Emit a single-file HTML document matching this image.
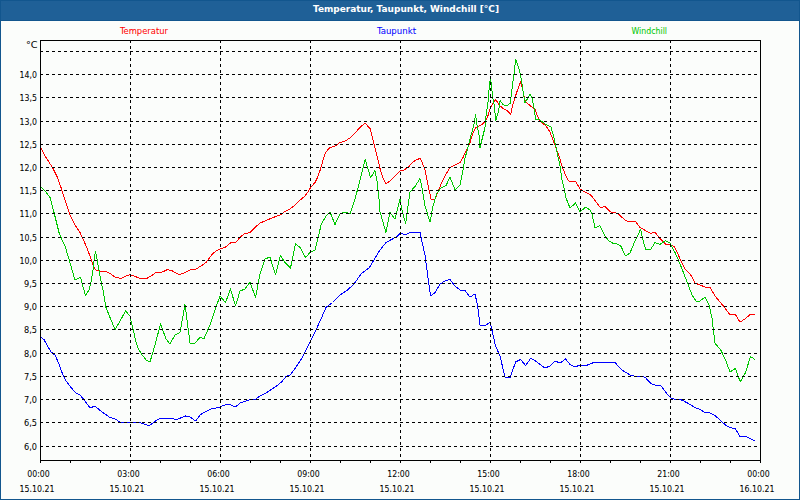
<!DOCTYPE html><html><head><meta charset="utf-8"><title>Temperatur, Taupunkt, Windchill</title>
<style>html,body{margin:0;padding:0;background:#fbfdfb;}svg{display:block;}text{font-family:'DejaVu Sans Condensed', 'DejaVu Sans', sans-serif;stroke-width:0.04px;}</style></head><body>
<svg width="800" height="500" viewBox="0 0 800 500">
<rect x="0" y="0" width="800" height="500" fill="#fbfdfb"/>
<rect x="0" y="0" width="800" height="20" fill="#1f6097"/>
<rect x="0" y="20" width="800" height="1" fill="#12568e"/>
<rect x="0.5" y="0.5" width="799" height="499" fill="none" stroke="#12568e" stroke-width="1" shape-rendering="crispEdges"/>
<text x="313" y="12" fill="#ffffff" stroke="#ffffff" font-weight="bold" font-size="9.5px" style="font-family:&quot;DejaVu Sans&quot;,sans-serif" textLength="186" lengthAdjust="spacingAndGlyphs">Temperatur, Taupunkt, Windchill [°C]</text>
<text x="120" y="34" fill="#ff0000" stroke="#ff0000" font-size="9.5px" textLength="48" lengthAdjust="spacingAndGlyphs">Temperatur</text>
<text x="377" y="34" fill="#0000ff" stroke="#0000ff" font-size="9.5px" textLength="39" lengthAdjust="spacingAndGlyphs">Taupunkt</text>
<text x="631.5" y="34" fill="#00c800" stroke="#00c800" font-size="9.5px" textLength="35.5" lengthAdjust="spacingAndGlyphs">Windchill</text>
<text x="26" y="48" fill="#000000" stroke="#000000" font-size="9.5px" textLength="11.5" lengthAdjust="spacingAndGlyphs">°C</text>
<g fill="none" stroke-width="1" stroke-linejoin="round" shape-rendering="crispEdges">
<polyline stroke="#ff0000" points="41.00,148.00 45.00,156.00 52.50,167.50 57.50,177.50 61.00,187.50 65.00,200.00 70.00,215.00 75.00,225.00 80.00,232.50 83.50,240.00 86.50,247.00 90.00,256.00 92.50,263.50 94.50,268.50 96.00,270.00 98.50,271.00 101.50,271.50 106.00,271.50 110.00,273.50 115.00,277.00 119.00,278.00 122.00,278.00 126.00,276.00 130.00,274.50 134.00,276.00 139.00,278.00 141.00,278.00 147.50,278.00 151.00,276.00 156.00,272.50 162.50,272.00 167.50,269.50 172.50,271.00 179.50,274.80 185.00,272.50 190.00,270.00 196.00,269.00 201.00,266.00 204.00,264.00 206.00,262.50 211.00,256.00 212.50,254.00 216.00,251.00 220.00,249.00 225.00,247.50 231.00,242.50 236.00,242.00 240.00,237.50 244.00,234.00 250.00,232.50 255.00,227.50 260.00,223.00 265.00,221.00 270.00,218.80 275.00,216.80 280.00,215.00 285.00,211.50 290.00,209.00 294.00,206.00 299.00,201.00 305.00,196.00 307.50,192.50 310.60,187.50 315.00,182.50 317.50,177.50 320.00,170.60 322.50,162.00 325.00,153.75 327.50,150.00 330.00,147.50 335.00,146.00 340.00,142.50 345.00,141.00 350.00,138.00 355.00,133.00 360.00,127.50 365.00,123.00 370.00,128.50 375.60,150.00 378.00,160.00 380.60,171.00 383.00,178.00 386.00,183.50 390.00,181.00 395.00,176.00 400.00,171.00 404.00,170.00 408.00,167.60 412.00,163.00 416.00,160.00 420.00,158.40 422.00,162.00 425.00,170.00 428.00,185.00 431.00,199.00 435.00,199.00 438.00,192.00 441.00,184.00 445.00,176.00 450.00,167.60 455.00,165.00 460.00,162.50 463.00,157.50 466.00,151.00 470.00,142.50 473.00,133.00 476.00,127.50 479.00,126.00 482.50,124.00 485.60,120.60 488.00,115.60 490.00,109.00 492.50,104.00 495.40,100.00 497.50,102.00 500.00,106.00 504.00,109.00 507.50,111.00 510.60,114.40 512.50,106.00 515.00,97.50 517.50,90.00 520.60,82.00 522.50,89.00 525.00,100.60 528.00,104.00 532.00,107.00 535.00,109.00 537.00,115.00 540.00,121.00 546.00,126.00 550.00,132.00 553.00,140.00 556.00,148.00 559.00,156.00 562.00,166.00 565.00,174.00 568.00,180.00 570.60,182.00 573.00,181.00 575.60,181.50 580.00,189.00 585.00,192.00 590.60,195.00 594.00,199.00 597.50,204.00 600.60,208.00 604.75,206.00 607.50,209.00 610.60,212.00 615.00,212.50 619.40,215.00 625.00,220.00 629.40,222.00 635.00,221.00 640.00,227.50 645.00,230.30 650.60,233.30 655.00,232.30 658.75,237.00 663.75,242.50 666.00,244.40 670.00,244.40 674.40,247.00 677.50,253.00 681.00,261.00 685.00,269.00 691.00,275.30 695.00,283.00 700.00,285.00 705.00,287.00 710.00,287.40 715.00,296.00 720.00,302.00 725.00,308.00 730.00,315.00 735.00,314.00 740.00,322.00 745.00,319.00 750.50,314.20 755.00,314.20"/>
<polyline stroke="#0000ff" points="41.00,337.50 44.00,339.50 47.50,346.00 51.00,352.00 55.00,355.00 59.00,364.00 62.50,374.00 66.00,381.00 71.00,387.50 76.00,393.00 80.00,395.00 85.00,401.00 90.00,408.00 95.00,406.00 100.00,410.50 105.00,414.00 110.00,417.50 115.00,419.00 120.00,422.00 130.00,422.00 140.00,422.50 145.00,424.50 149.50,425.60 156.00,420.60 160.60,418.20 172.00,418.20 175.60,419.80 180.60,418.00 185.60,416.00 190.00,417.00 195.60,421.00 200.60,414.50 206.00,411.50 211.00,409.00 216.00,408.00 220.00,407.00 226.00,404.50 230.00,404.50 235.50,407.00 240.00,403.00 246.00,401.00 251.00,399.50 256.00,399.00 260.00,396.00 266.00,393.00 272.00,389.00 278.00,385.00 282.00,381.50 286.00,376.50 290.00,375.00 294.00,370.00 298.00,364.00 302.00,358.00 306.00,350.00 311.00,340.00 316.00,330.00 321.00,319.00 326.00,307.50 332.50,302.50 340.00,295.00 347.50,290.00 354.00,284.00 361.00,274.00 369.00,268.00 374.00,260.00 380.00,250.00 386.00,242.50 392.50,239.00 397.50,236.00 400.50,233.00 405.00,235.00 410.00,232.40 415.00,232.00 420.00,232.40 422.00,242.00 425.00,255.00 430.50,296.00 435.00,292.50 440.00,284.00 445.00,281.00 450.00,279.50 455.00,286.00 460.00,290.00 465.00,290.50 470.00,297.00 475.00,294.00 477.50,305.00 480.00,325.00 485.00,326.00 490.00,322.00 492.50,332.50 495.50,346.00 500.00,356.00 505.00,377.00 510.00,378.00 515.60,362.00 520.60,359.50 525.60,365.50 530.60,358.50 535.00,360.50 540.00,364.50 545.00,368.00 550.00,366.00 555.00,361.00 560.00,363.00 565.50,359.00 570.00,364.50 575.00,367.00 580.00,365.00 585.00,366.00 590.00,364.00 595.00,362.00 600.00,362.00 612.50,362.00 615.60,363.00 618.75,367.00 621.90,370.00 626.00,372.50 630.00,375.00 634.00,376.00 642.50,376.50 645.60,377.75 648.00,380.60 651.00,383.50 655.00,385.00 660.60,385.40 663.75,389.40 667.50,394.40 670.60,398.00 675.00,399.40 680.00,399.40 683.00,400.60 687.50,403.00 692.50,406.00 696.00,408.00 700.00,409.50 705.00,412.50 710.00,413.00 715.00,415.50 720.00,420.00 726.00,425.50 730.00,427.50 735.50,429.00 740.00,436.50 746.00,436.50 750.00,438.50 754.50,441.00"/>
<polyline stroke="#00c800" points="41.00,187.00 45.00,191.00 50.00,197.50 54.00,212.50 59.00,232.50 62.00,240.00 65.00,246.00 68.00,256.00 71.00,266.00 75.00,280.00 78.00,278.50 80.50,277.50 82.00,283.00 85.50,295.80 89.00,290.00 91.00,282.00 93.00,270.00 94.50,256.00 95.50,252.00 96.50,256.00 97.50,262.00 99.50,273.00 101.50,284.00 103.00,290.00 106.00,307.50 110.00,317.50 115.00,329.50 120.00,321.00 125.60,311.00 130.00,316.00 132.00,325.00 134.00,333.00 135.50,341.00 138.50,349.00 142.00,354.70 146.50,360.50 150.00,362.00 155.00,345.00 160.50,324.00 166.00,339.00 170.00,344.00 175.00,335.00 180.00,332.50 185.00,304.50 190.00,343.00 195.00,343.00 200.00,337.50 204.00,338.50 210.00,325.00 215.00,310.00 220.00,296.00 225.50,302.50 230.50,289.00 235.50,306.00 240.00,291.00 245.00,289.00 250.00,282.00 255.50,297.50 260.00,274.00 265.00,259.00 270.00,257.00 275.50,275.00 280.50,255.50 285.00,262.50 290.50,268.00 295.50,244.00 300.00,247.50 305.50,257.50 310.00,252.50 315.00,250.00 319.00,234.00 321.00,225.00 326.00,216.00 330.00,212.00 335.00,224.50 340.00,214.00 345.00,212.00 350.00,214.00 355.00,199.00 358.75,185.00 362.50,170.00 365.25,159.40 367.50,167.50 370.60,177.50 373.00,174.00 375.00,170.60 377.00,181.00 378.75,196.00 380.00,212.00 386.00,232.50 390.00,212.50 395.00,219.00 400.00,199.00 402.00,210.00 405.60,223.60 410.00,192.00 415.00,186.50 420.00,178.60 422.00,188.00 425.00,206.00 430.00,222.00 433.00,206.00 437.00,193.00 441.00,188.00 446.00,185.60 450.00,177.00 455.00,190.00 460.00,185.00 463.00,170.00 465.00,158.00 467.00,151.00 470.60,137.00 474.00,124.00 475.60,115.00 477.00,125.00 479.00,135.00 480.00,147.50 482.50,137.50 485.00,127.50 486.00,116.00 488.00,102.50 489.50,84.00 490.50,79.00 491.50,84.00 492.00,91.00 493.00,99.00 494.50,106.00 495.60,121.00 498.75,110.00 500.00,100.60 502.50,104.00 505.60,106.00 508.00,105.00 510.60,103.00 511.00,97.50 512.50,85.00 514.00,74.00 515.60,59.40 517.50,64.40 519.40,70.00 521.00,77.50 523.00,91.00 525.00,103.00 527.50,98.75 530.00,94.00 532.00,97.50 534.00,107.50 535.60,119.40 540.00,120.00 545.00,124.00 551.00,127.00 554.00,138.00 557.00,152.00 560.00,166.00 562.00,180.00 564.40,190.00 566.00,198.00 570.00,208.00 575.60,203.00 580.00,212.00 585.60,207.00 590.00,210.00 592.00,214.00 595.00,228.00 600.00,225.60 605.00,236.00 609.00,241.00 612.50,243.00 617.00,244.00 620.60,245.60 625.60,256.00 630.00,253.00 635.00,241.00 640.60,229.40 643.00,240.00 645.60,249.60 650.60,249.60 655.00,242.50 660.00,244.40 665.60,240.60 670.00,243.00 675.00,252.50 679.40,262.50 684.00,274.00 689.00,287.00 692.00,295.00 696.00,301.00 700.00,301.00 705.00,297.00 709.00,305.00 712.00,318.00 715.00,343.20 721.00,350.40 725.50,360.00 730.00,372.00 735.40,368.40 740.20,381.80 745.60,372.60 750.40,356.40 755.00,359.50"/>
</g>
<g stroke="#000000" stroke-width="1" stroke-dasharray="3 3" shape-rendering="crispEdges"><line x1="40" y1="51.5" x2="760" y2="51.5"/><line x1="40" y1="74.5" x2="760" y2="74.5"/><line x1="40" y1="97.5" x2="760" y2="97.5"/><line x1="40" y1="121.5" x2="760" y2="121.5"/><line x1="40" y1="144.5" x2="760" y2="144.5"/><line x1="40" y1="167.5" x2="760" y2="167.5"/><line x1="40" y1="190.5" x2="760" y2="190.5"/><line x1="40" y1="213.5" x2="760" y2="213.5"/><line x1="40" y1="237.5" x2="760" y2="237.5"/><line x1="40" y1="260.5" x2="760" y2="260.5"/><line x1="40" y1="283.5" x2="760" y2="283.5"/><line x1="40" y1="306.5" x2="760" y2="306.5"/><line x1="40" y1="329.5" x2="760" y2="329.5"/><line x1="40" y1="353.5" x2="760" y2="353.5"/><line x1="40" y1="376.5" x2="760" y2="376.5"/><line x1="40" y1="399.5" x2="760" y2="399.5"/><line x1="40" y1="422.5" x2="760" y2="422.5"/><line x1="40" y1="446.5" x2="760" y2="446.5"/><line x1="130.5" y1="40" x2="130.5" y2="460"/><line x1="220.5" y1="40" x2="220.5" y2="460"/><line x1="310.5" y1="40" x2="310.5" y2="460"/><line x1="400.5" y1="40" x2="400.5" y2="460"/><line x1="490.5" y1="40" x2="490.5" y2="460"/><line x1="580.5" y1="40" x2="580.5" y2="460"/><line x1="670.5" y1="40" x2="670.5" y2="460"/></g>
<rect x="40.5" y="40.5" width="720" height="420" fill="none" stroke="#000000" stroke-width="1" shape-rendering="crispEdges"/>
<g stroke="#000000" stroke-width="1" shape-rendering="crispEdges"><line x1="40.5" y1="460" x2="40.5" y2="463"/><line x1="70.5" y1="460" x2="70.5" y2="463"/><line x1="100.5" y1="460" x2="100.5" y2="463"/><line x1="130.5" y1="460" x2="130.5" y2="463"/><line x1="160.5" y1="460" x2="160.5" y2="463"/><line x1="190.5" y1="460" x2="190.5" y2="463"/><line x1="220.5" y1="460" x2="220.5" y2="463"/><line x1="250.5" y1="460" x2="250.5" y2="463"/><line x1="280.5" y1="460" x2="280.5" y2="463"/><line x1="310.5" y1="460" x2="310.5" y2="463"/><line x1="340.5" y1="460" x2="340.5" y2="463"/><line x1="370.5" y1="460" x2="370.5" y2="463"/><line x1="400.5" y1="460" x2="400.5" y2="463"/><line x1="430.5" y1="460" x2="430.5" y2="463"/><line x1="460.5" y1="460" x2="460.5" y2="463"/><line x1="490.5" y1="460" x2="490.5" y2="463"/><line x1="520.5" y1="460" x2="520.5" y2="463"/><line x1="550.5" y1="460" x2="550.5" y2="463"/><line x1="580.5" y1="460" x2="580.5" y2="463"/><line x1="610.5" y1="460" x2="610.5" y2="463"/><line x1="640.5" y1="460" x2="640.5" y2="463"/><line x1="670.5" y1="460" x2="670.5" y2="463"/><line x1="700.5" y1="460" x2="700.5" y2="463"/><line x1="730.5" y1="460" x2="730.5" y2="463"/><line x1="760.5" y1="460" x2="760.5" y2="463"/></g>
<g fill="#000000" stroke="#000000" font-size="9.5px"><text x="19.6" y="78" textLength="17.4" lengthAdjust="spacingAndGlyphs">14,0</text><text x="19.6" y="101" textLength="17.4" lengthAdjust="spacingAndGlyphs">13,5</text><text x="19.6" y="125" textLength="17.4" lengthAdjust="spacingAndGlyphs">13,0</text><text x="19.6" y="148" textLength="17.4" lengthAdjust="spacingAndGlyphs">12,5</text><text x="19.6" y="171" textLength="17.4" lengthAdjust="spacingAndGlyphs">12,0</text><text x="19.6" y="194" textLength="17.4" lengthAdjust="spacingAndGlyphs">11,5</text><text x="19.6" y="217" textLength="17.4" lengthAdjust="spacingAndGlyphs">11,0</text><text x="19.6" y="241" textLength="17.4" lengthAdjust="spacingAndGlyphs">10,5</text><text x="19.6" y="264" textLength="17.4" lengthAdjust="spacingAndGlyphs">10,0</text><text x="24" y="287" textLength="13" lengthAdjust="spacingAndGlyphs">9,5</text><text x="24" y="310" textLength="13" lengthAdjust="spacingAndGlyphs">9,0</text><text x="24" y="333" textLength="13" lengthAdjust="spacingAndGlyphs">8,5</text><text x="24" y="357" textLength="13" lengthAdjust="spacingAndGlyphs">8,0</text><text x="24" y="380" textLength="13" lengthAdjust="spacingAndGlyphs">7,5</text><text x="24" y="403" textLength="13" lengthAdjust="spacingAndGlyphs">7,0</text><text x="24" y="426" textLength="13" lengthAdjust="spacingAndGlyphs">6,5</text><text x="24" y="450" textLength="13" lengthAdjust="spacingAndGlyphs">6,0</text></g>
<g fill="#000000" stroke="#000000" font-size="9.5px"><text x="27.25" y="477" textLength="22.5" lengthAdjust="spacingAndGlyphs">00:00</text><text x="19.5" y="492" textLength="35" lengthAdjust="spacingAndGlyphs">15.10.21</text><text x="117.25" y="477" textLength="22.5" lengthAdjust="spacingAndGlyphs">03:00</text><text x="109.5" y="492" textLength="35" lengthAdjust="spacingAndGlyphs">15.10.21</text><text x="207.25" y="477" textLength="22.5" lengthAdjust="spacingAndGlyphs">06:00</text><text x="199.5" y="492" textLength="35" lengthAdjust="spacingAndGlyphs">15.10.21</text><text x="297.25" y="477" textLength="22.5" lengthAdjust="spacingAndGlyphs">09:00</text><text x="289.5" y="492" textLength="35" lengthAdjust="spacingAndGlyphs">15.10.21</text><text x="387.25" y="477" textLength="22.5" lengthAdjust="spacingAndGlyphs">12:00</text><text x="379.5" y="492" textLength="35" lengthAdjust="spacingAndGlyphs">15.10.21</text><text x="477.25" y="477" textLength="22.5" lengthAdjust="spacingAndGlyphs">15:00</text><text x="469.5" y="492" textLength="35" lengthAdjust="spacingAndGlyphs">15.10.21</text><text x="567.25" y="477" textLength="22.5" lengthAdjust="spacingAndGlyphs">18:00</text><text x="559.5" y="492" textLength="35" lengthAdjust="spacingAndGlyphs">15.10.21</text><text x="657.25" y="477" textLength="22.5" lengthAdjust="spacingAndGlyphs">21:00</text><text x="649.5" y="492" textLength="35" lengthAdjust="spacingAndGlyphs">15.10.21</text><text x="747.25" y="477" textLength="22.5" lengthAdjust="spacingAndGlyphs">00:00</text><text x="739.5" y="492" textLength="35" lengthAdjust="spacingAndGlyphs">16.10.21</text></g>
</svg></body></html>
